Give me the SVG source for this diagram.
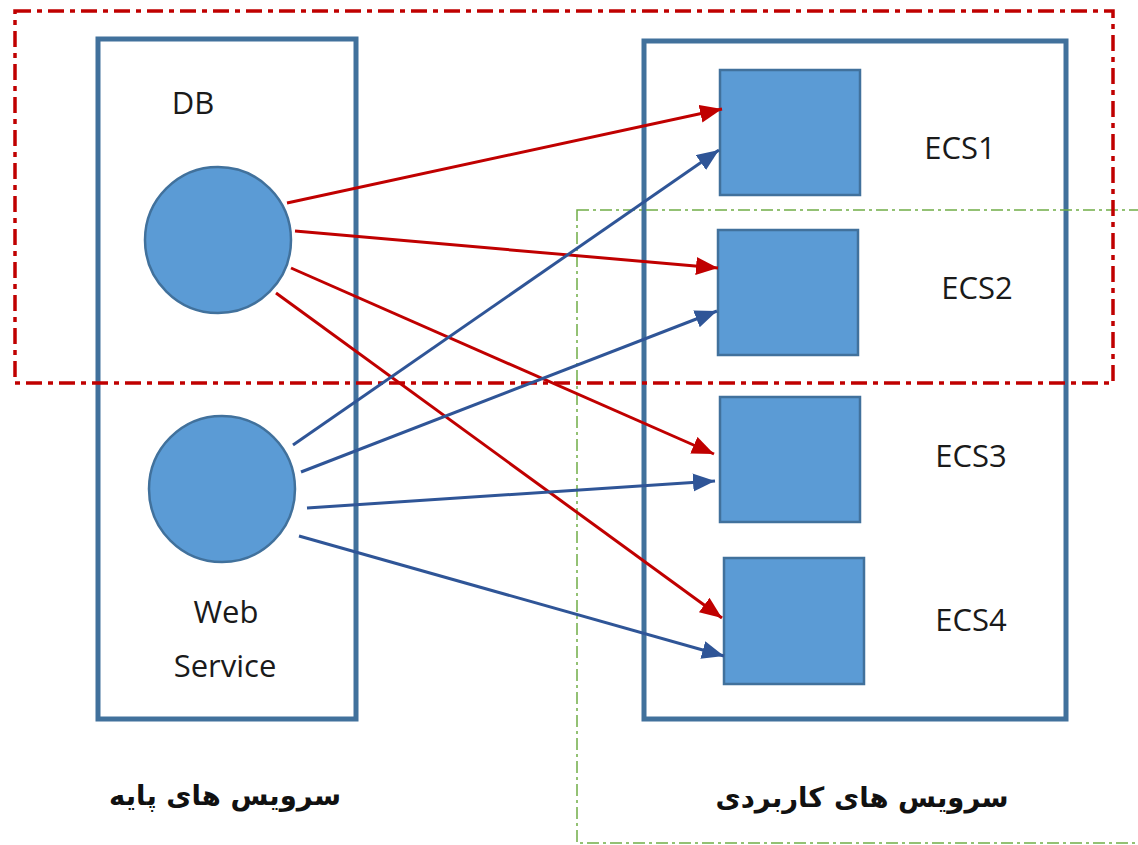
<svg xmlns="http://www.w3.org/2000/svg" width="1138" height="845" viewBox="0 0 1138 845">
  <style>
    .frame { fill: none; stroke: #41719C; stroke-width: 5; }
    .node { fill: #5B9BD5; stroke: #41719C; stroke-width: 2.5; }
    .lbl { font-family: "Open Sans", "Liberation Sans", sans-serif; font-size: 31px; fill: #1a1a1a; }
    .fa { font-family: "DejaVu Sans", sans-serif; font-size: 27.5px; font-weight: bold; fill: #111; }
    .red { stroke: #C00000; stroke-width: 3; fill: none; marker-end: url(#headRed); }
    .blue { stroke: #2F5597; stroke-width: 3; fill: none; marker-end: url(#headBlue); }
  </style>
  <defs>
    <marker id="headRed" markerUnits="userSpaceOnUse" markerWidth="24" markerHeight="20" refX="22" refY="9" orient="auto">
      <path d="M0,0 L22,9 L0,18 z" fill="#C00000"/>
    </marker>
    <marker id="headBlue" markerUnits="userSpaceOnUse" markerWidth="24" markerHeight="20" refX="22" refY="9" orient="auto">
      <path d="M0,0 L22,9 L0,18 z" fill="#2F5597"/>
    </marker>
  </defs>
  <rect width="1138" height="845" fill="#ffffff"/>

  <!-- service group frames -->
  <g id="base-services">
    <rect class="frame" x="98" y="39" width="258" height="680"/>
    <text class="fa" x="225" y="805" text-anchor="middle" direction="rtl">سرویس های پایه</text>
  </g>
  <g id="app-services">
    <rect class="frame" x="644" y="41" width="422" height="678"/>
    <text class="fa" x="862" y="807" text-anchor="middle" direction="rtl">سرویس های کاربردی</text>
  </g>

  <!-- grouping outlines -->
  <g id="groups">
    <rect x="577" y="210" width="580" height="633" fill="none" stroke="#70AD47" stroke-width="1.5" stroke-dasharray="12 4 3 4"/>
    <rect x="15" y="11" width="1098" height="372" fill="none" stroke="#C00000" stroke-width="3.5" stroke-dasharray="16 6 5 6"/>
  </g>

  <g id="db">
    <circle class="node" cx="218" cy="240" r="73"/>
    <text class="lbl" x="193" y="114" text-anchor="middle">DB</text>
  </g>
  <g id="web-service">
    <circle class="node" cx="222" cy="489" r="73"/>
    <text class="lbl" x="226" y="623" text-anchor="middle">Web</text>
    <text class="lbl" x="225" y="677" text-anchor="middle">Service</text>
  </g>

  <g id="ecs1">
    <rect class="node" x="720" y="70" width="140" height="125"/>
    <text class="lbl" x="960" y="159" text-anchor="middle">ECS1</text>
  </g>
  <g id="ecs2">
    <rect class="node" x="718" y="230" width="140" height="125"/>
    <text class="lbl" x="977" y="299" text-anchor="middle">ECS2</text>
  </g>
  <g id="ecs3">
    <rect class="node" x="720" y="397" width="140" height="125"/>
    <text class="lbl" x="971" y="467" text-anchor="middle">ECS3</text>
  </g>
  <g id="ecs4">
    <rect class="node" x="724" y="558" width="140" height="126"/>
    <text class="lbl" x="971" y="631" text-anchor="middle">ECS4</text>
  </g>

  <!-- connectors -->
  <g id="connectors">
    <line class="red" x1="287" y1="203" x2="722" y2="109"/>
    <line class="red" x1="295" y1="231" x2="718" y2="268"/>
    <line class="red" x1="291" y1="268" x2="714" y2="454"/>
    <line class="red" x1="276" y1="293" x2="722" y2="618"/>
    <line class="blue" x1="293" y1="445" x2="719" y2="150"/>
    <line class="blue" x1="301" y1="472" x2="717" y2="311"/>
    <line class="blue" x1="307" y1="508" x2="715" y2="481"/>
    <line class="blue" x1="299" y1="536" x2="724" y2="656"/>
  </g>
</svg>
